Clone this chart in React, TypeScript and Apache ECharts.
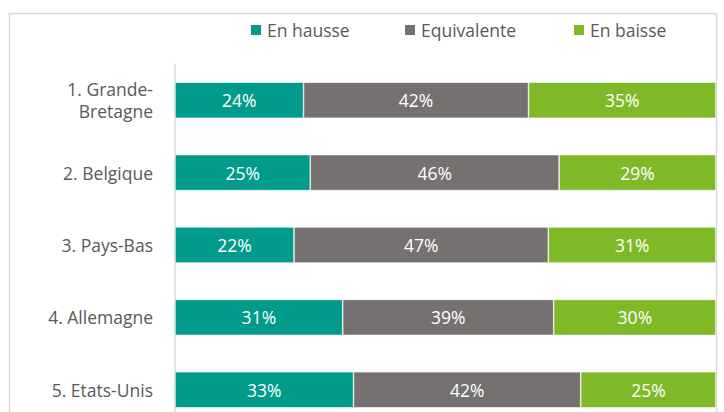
import React, { useEffect, useRef } from "react";
import * as echarts from "echarts";

const categories = ["1. Grande-\nBretagne", "2. Belgique", "3. Pays-Bas", "4. Allemagne", "5. Etats-Unis"];
const seriesNames = ["En hausse", "Equivalente", "En baisse"];
const hausse = [24, 25, 22, 31, 33];
const equivalente = [42, 46, 47, 39, 42];
const baisse = [35, 29, 31, 30, 25];
const colors = ["#009B8A", "#767171", "#80B927"];
const legendLefts = [244, 398, 567];

export default function App() {
  const ref = useRef<HTMLDivElement>(null);
  useEffect(() => {
    if (!ref.current) return;
    const chart = echarts.init(ref.current, null, { renderer: "svg" });
    const raw = [hausse, equivalente, baisse];
    const totals = categories.map((_, i) => hausse[i] + equivalente[i] + baisse[i]);
    const font = "'Open Sans', sans-serif";
    chart.setOption({
      animation: false,
      textStyle: { fontFamily: font },
      graphic: [
        {
          type: "rect",
          shape: { x: 9.5, y: 13.5, width: 707, height: 460 },
          style: { fill: "none", stroke: "#D9D9D9", lineWidth: 1.5 },
          silent: true,
        },
      ],
      legend: seriesNames.map((n, i) => ({
        data: [n],
        left: legendLefts[i],
        top: 16,
        itemWidth: 12,
        itemHeight: 12,
        itemGap: 0,
        icon: "rect",
        textStyle: { color: "#595959", fontSize: 17.5, fontFamily: font },
      })),
      grid: { left: 175, top: 64, width: 541, height: 362, containLabel: false },
      xAxis: {
        type: "value",
        min: 0,
        max: 1,
        show: false,
      },
      yAxis: {
        type: "category",
        inverse: true,
        data: categories,
        axisLine: { show: true, lineStyle: { color: "#D9D9D9", width: 1.5 } },
        axisTick: { show: false },
        axisLabel: {
          color: "#595959",
          fontSize: 17.5,
          fontFamily: font,
          margin: 22,
          lineHeight: 22,
          align: "right",
        },
      },
      series: seriesNames.map((n, s) => ({
        name: n,
        type: "bar",
        stack: "total",
        barWidth: 36,
        itemStyle: { color: colors[s], borderColor: "#FFFFFF", borderWidth: 0.6 },
        label: {
          show: true,
          position: "inside",
          color: "#FFFFFF",
          fontSize: 17.5,
          fontFamily: font,
          formatter: (p: any) => raw[s][p.dataIndex] + "%",
        },
        data: raw[s].map((v, i) => v / totals[i]),
      })),
    });
    return () => chart.dispose();
  }, []);
  return (
    <div style={{ position: "fixed", left: 0, top: 0, width: 724, height: 412, overflow: "hidden", background: "#fff" }}>
      <div ref={ref} style={{ width: 724, height: 440 }} />
    </div>
  );
}
